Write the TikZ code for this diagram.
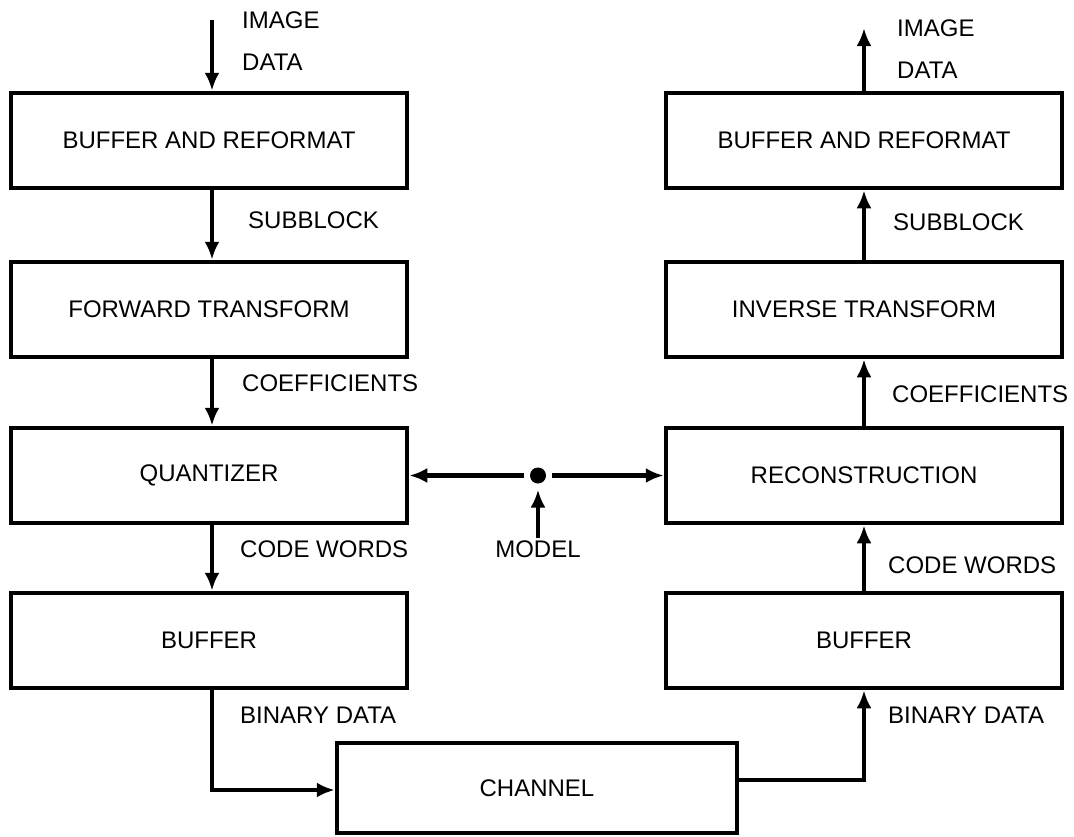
\documentclass[tikz,border=0pt]{standalone}
\usepackage{fontspec}
\setmainfont{Liberation Sans}
\usetikzlibrary{arrows.meta}

\begin{document}
\begin{tikzpicture}[x=1pt,y=-1pt,
  blk/.style={draw,line width=4.5pt,minimum width=396pt,minimum height=95pt,font=\fontsize{24}{30}\selectfont},
  lbl/.style={anchor=west,inner sep=0pt,font=\fontsize{24}{42}\selectfont,align=left},
  flow/.style={line width=4.5pt,-{Latex[length=18pt,width=15pt]}}]
\useasboundingbox (0,0) rectangle (1074,836);

% sender side
\node[blk] (lbr) at (209,140.5) {BUFFER AND REFORMAT};
\node[blk] (lft) at (209,309.5) {FORWARD TRANSFORM};
\node[blk] (lqu) at (209,475.5) {QUANTIZER};
\node[blk] (lbu) at (209,640.5) {BUFFER};

% receiver side
\node[blk] (rbr) at (864,140.5) {BUFFER AND REFORMAT};
\node[blk] (rit) at (864,309.5) {INVERSE TRANSFORM};
\node[blk] (rre) at (864,475.5) {RECONSTRUCTION};
\node[blk] (rbu) at (864,640.5) {BUFFER};

\node[blk,minimum width=400pt,minimum height=90pt] (chan) at (537,788) {CHANNEL};

% model
\node[circle,fill,inner sep=0pt,minimum size=16pt,outer sep=6pt] (mdot) at (538,475.5) {};
\node[inner sep=2pt,font=\fontsize{24}{30}\selectfont] (model) at (538,549) {MODEL};

\coordinate (lin) at (212,20);
\coordinate (rout) at (864,28);

\draw[flow] (lin) -- (lbr.north -| lin);
\draw[flow] (lbr.south -| lin) -- (lft.north -| lin);
\draw[flow] (lft.south -| lin) -- (lqu.north -| lin);
\draw[flow] (lqu.south -| lin) -- (lbu.north -| lin);
\draw[flow] (lbu.south -| lin) |- ([yshift=-2pt]chan.west);

\draw[flow] ([yshift=8pt]chan.east) -| (rbu.south);
\draw[flow] (rbu.north) -- (rre.south);
\draw[flow] (rre.north) -- (rit.south);
\draw[flow] (rit.north) -- (rbr.south);
\draw[flow] (rbr.north) -- (rout);

\draw[flow] (mdot) -- (lqu.east);
\draw[flow] (mdot) -- (rre.west);
\draw[flow] (model) -- (mdot);

% labels
\node[lbl] at (242,41) {IMAGE\\DATA};
\node[lbl] at (248,220) {SUBBLOCK};
\node[lbl] at (242,383) {COEFFICIENTS};
\node[lbl] at (240,549) {CODE WORDS};
\node[lbl] at (240,715) {BINARY DATA};

\node[lbl] at (897,49) {IMAGE\\DATA};
\node[lbl] at (893,222) {SUBBLOCK};
\node[lbl] at (892,394) {COEFFICIENTS};
\node[lbl] at (888,565) {CODE WORDS};
\node[lbl] at (888,715) {BINARY DATA};
\end{tikzpicture}
\end{document}
